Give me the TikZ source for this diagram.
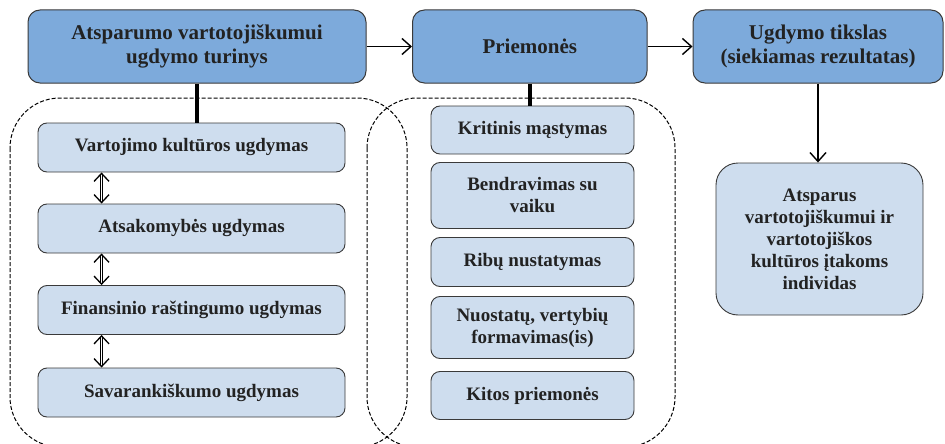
\documentclass[tikz,border=0pt]{standalone}
\usepackage{fontspec}
\setmainfont{Liberation Serif}
\usetikzlibrary{arrows.meta}
\definecolor{headblue}{HTML}{7DAADB}
\definecolor{itemblue}{HTML}{CEDDEE}
\definecolor{edgegray}{HTML}{3A3A3A}
\definecolor{textgray}{HTML}{222222}

\begin{document}
\begin{tikzpicture}[x=1pt,y=-1pt,
		headbox/.style={draw=edgegray, line width=1pt, fill=headblue, rounded corners=12pt, align=center, inner sep=0pt, text=textgray, font=\fontsize{21}{24}\selectfont\bfseries},
		itembox/.style={draw=edgegray, line width=0.9pt, fill=itemblue, rounded corners=9pt, align=center, inner sep=0pt, text=textgray, font=\fontsize{19}{22}\selectfont\bfseries},
		flowarrow/.style={line width=1.4pt, -{Straight Barb[length=9pt,width=16pt]}},
		dblarrow/.style={double, double distance=1.6pt, line width=0.8pt, {Straight Barb[length=8pt,width=15pt,line width=1.3pt]}-{Straight Barb[length=8pt,width=15pt,line width=1.3pt]}},
		groupline/.style={line width=1pt, dash pattern=on 4pt off 2pt, rounded corners=50pt}]
		\useasboundingbox (0,0) rectangle (945,444);
		\clip (0,0) rectangle (945,444);
		
		\draw[groupline] (10,98) rectangle (407,447);
		\draw[groupline] (367,98) rectangle (675,447);
		
		\node[headbox, minimum width=338pt, minimum height=73pt] (content) at (197,46.5) {Atsparumo vartotojiškumui\\ugdymo turinys};
		\node[headbox, minimum width=234.5pt, minimum height=73pt] (means) at (529.75,46.5) {Priemonės};
		\node[headbox, minimum width=250pt, minimum height=73pt] (goal) at (818,46.5) {Ugdymo tikslas\\(siekiamas rezultatas)};
		
		\node[itembox, minimum width=307pt, minimum height=49pt] (vartojimas) at (191.5,147.5) {Vartojimo kultūros ugdymas};
		\node[itembox, minimum width=307pt, minimum height=49pt] (atsakomybe) at (191.5,228.5) {Atsakomybės ugdymas};
		\node[itembox, minimum width=307pt, minimum height=49pt] (finansai) at (191.5,310) {Finansinio raštingumo ugdymas};
		\node[itembox, minimum width=307pt, minimum height=49pt] (savarankiskumas) at (191.5,392.5) {Savarankiškumo ugdymas};
		
		\node[itembox, minimum width=203pt, minimum height=48pt] (kritinis) at (532.5,130) {Kritinis mąstymas};
		\node[itembox, minimum width=203pt, minimum height=66pt] (bendravimas) at (532.5,195.5) {Bendravimas su\\vaiku};
		\node[itembox, minimum width=203pt, minimum height=49pt] (ribos) at (532.5,262) {Ribų nustatymas};
		\node[itembox, minimum width=203pt, minimum height=62pt] (nuostatos) at (532.5,327.5) {Nuostatų, vertybių\\formavimas(is)};
		\node[itembox, minimum width=203pt, minimum height=48pt] (kitos) at (532.5,395.5) {Kitos priemonės};
		
		\node[itembox, rounded corners=22pt, minimum width=207pt, minimum height=152pt] (individas) at (819.5,239) {Atsparus\\vartotojiškumui ir\\vartotojiškos\\kultūros įtakoms\\individas};
		
		\draw[flowarrow] (content) -- (means);
		\draw[flowarrow] (means) -- (goal);
		\draw[flowarrow] (goal.south) -- (goal.south |- individas.north);
		
		\draw[line width=4pt] (content.south) -- (content.south |- vartojimas.north);
		\draw[line width=4pt] (means.south) -- (means.south |- kritinis.north);
		
		\draw[dblarrow] ([xshift=64pt]vartojimas.south west) -- ([xshift=64pt]atsakomybe.north west);
		\draw[dblarrow] ([xshift=64pt]atsakomybe.south west) -- ([xshift=64pt]finansai.north west);
		\draw[dblarrow] ([xshift=64pt]finansai.south west) -- ([xshift=64pt]savarankiskumas.north west);
	\end{tikzpicture}
\end{document}
